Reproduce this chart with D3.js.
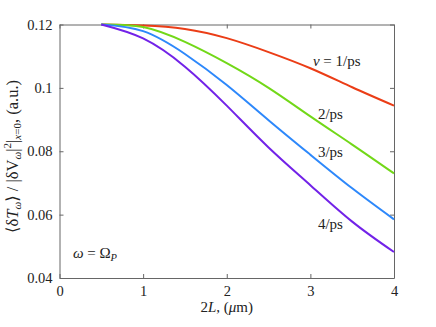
<!DOCTYPE html>
<html>
<head>
<meta charset="utf-8">
<script src="https://cdn.jsdelivr.net/npm/d3@7"></script>
<style>
  body { margin: 0; background: #fff; }
</style>
</head>
<body>
<svg id="chart" width="436" height="327"></svg>
<script>
// values
const lengths = [0.5, 1, 1.5, 2, 2.5, 3, 3.5, 4];
const nu1 = [0.12, 0.1197, 0.1186, 0.1157, 0.1113, 0.1062, 0.1002, 0.0944];
const nu2 = [0.12, 0.1192, 0.1145, 0.1078, 0.1000, 0.0910, 0.0821, 0.0730];
const nu3 = [0.12, 0.1179, 0.1107, 0.1009, 0.0898, 0.0789, 0.0683, 0.0585];
const nu4 = [0.12, 0.1156, 0.1067, 0.0944, 0.0812, 0.0693, 0.0578, 0.0482];
const seriesColors = ["#eb3d16", "#72d818", "#2d88fb", "#7222e8"];
const seriesLabels = ["1/ps", "2/ps", "3/ps", "4/ps"];
const xTicks = [0, 1, 2, 3, 4];
const yTicks = [0.04, 0.06, 0.08, 0.1, 0.12];

const FONT = '"Liberation Serif", "Times New Roman", "DejaVu Serif", serif';

const svg = d3.select("#chart").attr("font-family", FONT);
const margin = { top: 24.5, right: 42, bottom: 49, left: 59.5 };
const width = 436 - margin.left - margin.right;
const height = 327 - margin.top - margin.bottom;

const x = d3.scaleLinear().domain([0, 4]).range([0, width]);
const y = d3.scaleLinear().domain([0.04, 0.12]).range([height, 0]);

const g = svg.append("g").attr("transform", `translate(${margin.left},${margin.top})`);

const axisColor = "#666";
function styleAxis(sel) {
  sel.attr("font-family", FONT).attr("font-size", 14.5);
  sel.select(".domain").attr("stroke", axisColor);
  sel.selectAll(".tick line").attr("stroke", axisColor);
  sel.selectAll(".tick text").attr("fill", "#222");
}

const fmtY = (d) => d3.format(".2~f")(d);

g.append("g").attr("transform", `translate(0,${height})`)
  .call(d3.axisBottom(x).tickValues(xTicks).tickFormat(d3.format("d")).tickSizeInner(-4).tickSizeOuter(0).tickPadding(8))
  .call(styleAxis);
g.append("g")
  .call(d3.axisLeft(y).tickValues(yTicks).tickFormat(fmtY).tickSizeInner(-4).tickSizeOuter(0).tickPadding(7))
  .call(styleAxis);
g.append("g")
  .call(d3.axisTop(x).tickValues(xTicks).tickFormat("").tickSizeInner(-4).tickSizeOuter(0))
  .call(styleAxis);
g.append("g").attr("transform", `translate(${width},0)`)
  .call(d3.axisRight(y).tickValues(yTicks).tickFormat("").tickSizeInner(-4).tickSizeOuter(0))
  .call(styleAxis);

const line = d3.line()
  .x((d, i) => x(lengths[i]))
  .y((d) => y(d))
  .curve(d3.curveNatural);

[nu1, nu2, nu3, nu4].forEach((s, idx) => {
  g.append("path")
    .attr("d", line(s))
    .attr("fill", "none")
    .attr("stroke", seriesColors[idx])
    .attr("stroke-width", 2);
});

// curve labels
const labelPos = [[3.03, 0.1069], [3.09, 0.0901], [3.09, 0.0781], [3.09, 0.0554]];
labelPos.forEach((p, idx) => {
  const t = g.append("text")
    .attr("x", x(p[0]))
    .attr("y", y(p[1]))
    .attr("font-size", 15)
    .attr("fill", "#222");
  if (idx === 0) {
    t.append("tspan").attr("font-style", "italic").text("ν");
    t.append("tspan").text(" = " + seriesLabels[idx]);
  } else {
    t.text(seriesLabels[idx]);
  }
});

// omega annotation
const om = g.append("text")
  .attr("x", x(0.16))
  .attr("y", y(0.0462))
  .attr("font-size", 15)
  .attr("fill", "#222");
om.append("tspan").attr("font-style", "italic").text("ω");
om.append("tspan").text(" = Ω");
om.append("tspan").attr("font-style", "italic").attr("font-size", 10.5)
  .attr("dy", 3).text("P");

// x label
const xl = svg.append("text")
  .attr("x", margin.left + width / 2)
  .attr("y", 312)
  .attr("text-anchor", "middle")
  .attr("font-size", 15)
  .attr("fill", "#222");
xl.append("tspan").text("2");
xl.append("tspan").attr("font-style", "italic").text("L");
xl.append("tspan").text(", (");
xl.append("tspan").attr("font-style", "italic").text("μ");
xl.append("tspan").text("m)");

// y label
const yl = svg.append("text")
  .attr("transform", `translate(18,${margin.top + 132}) rotate(-90)`)
  .attr("text-anchor", "middle")
  .attr("font-size", 16.5)
  .attr("fill", "#222");
yl.append("tspan").text("⟨δ");
yl.append("tspan").attr("font-style", "italic").text("T");
yl.append("tspan").attr("font-style", "italic").attr("font-size", 11).attr("dy", 3).text("ω");
yl.append("tspan").attr("dy", -3).text("⟩ / |δV");
yl.append("tspan").attr("font-style", "italic").attr("font-size", 11).attr("dy", 3).text("ω");
yl.append("tspan").attr("dy", -3).text("|");
yl.append("tspan").attr("font-size", 11).attr("dy", -7).text("2");
yl.append("tspan").attr("dy", 7).text("|");
yl.append("tspan").attr("font-style", "italic").attr("font-size", 11).attr("dy", 3).text("x");
yl.append("tspan").attr("font-size", 11).text("=0");
yl.append("tspan").attr("dy", -3).text(", (a.u.)");
</script>
</body>
</html>
